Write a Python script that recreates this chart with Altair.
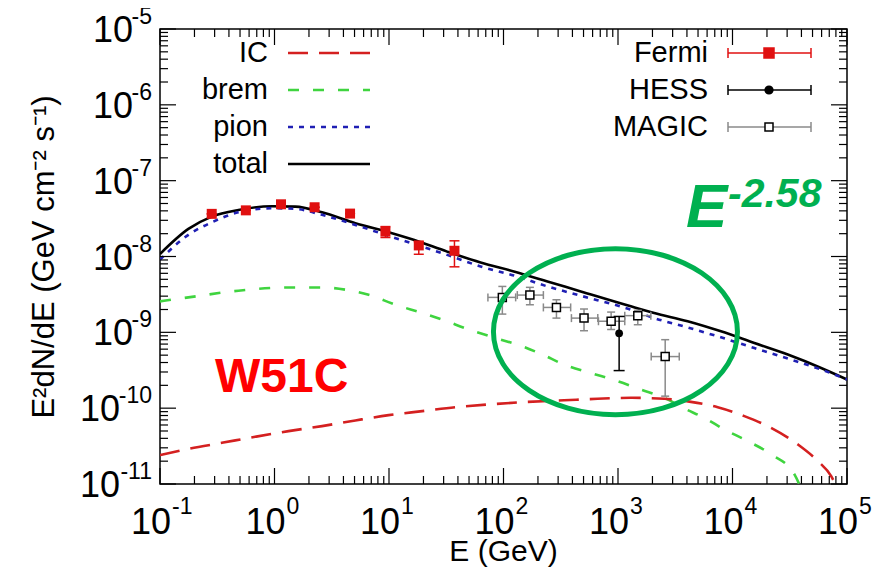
import altair as alt
import pandas as pd

# ---------------- data ----------------
model_E = [0.1, 0.177, 0.283, 0.484, 0.949, 1.52, 2.60, 5.08, 9.93, 16.4, 32.2, 63.1,
           123, 242, 473, 1294, 2070, 4055, 7925, 15520, 30400, 59430, 1e5]
total_F = [1.08e-8, 2.31e-8, 3.36e-8, 4.11e-8, 4.59e-8, 4.55e-8, 3.83e-8, 2.74e-8, 2.09e-8,
           1.66e-8, 1.16e-8, 8.34e-9, 6.35e-9, 4.69e-9, 3.46e-9, 2.20e-9, 1.80e-9, 1.40e-9,
           1.03e-9, 7.23e-10, 5.09e-10, 3.39e-10, 2.39e-10]
pion_F = [9.1e-9, 1.93e-8, 2.82e-8, 3.83e-8, 4.33e-8, 4.24e-8, 3.54e-8, 2.61e-8, 1.87e-8,
          1.47e-8, 1.05e-8, 7.39e-9, 5.62e-9, 4.03e-9, 3.04e-9, 1.99e-9, 1.54e-9, 1.16e-9,
          8.59e-10, 6.21e-10, 4.51e-10, 3.23e-10, 2.39e-10]
brem_E = [0.1, 0.177, 0.484, 1.326, 2.60, 4.16, 6.64, 11.4, 19.5, 29.2, 49.8, 85.3, 146, 219,
          338, 578, 991, 1583, 2531, 3787, 5662, 8468, 13580, 21720, 34750, 40000]
brem_F = [2.56e-9, 2.89e-9, 3.54e-9, 3.91e-9, 3.91e-9, 3.65e-9, 3.13e-9, 2.31e-9, 1.80e-9,
          1.47e-9, 1.09e-9, 8.41e-10, 6.55e-10, 5.09e-10, 3.76e-10, 2.91e-10, 2.27e-10,
          1.76e-10, 1.37e-10, 9.91e-11, 7.45e-11, 5.25e-11, 3.68e-11, 2.46e-11, 1.34e-11, 8.5e-12]
ic_E = [0.1, 0.177, 0.347, 0.678, 1.326, 2.60, 5.08, 9.93, 19.5, 38.1, 74.5, 146, 338, 662,
        1294, 2531, 4335, 7430, 12690, 21720, 37150, 55590, 72740, 82000]
ic_F = [2.41e-11, 2.91e-11, 3.49e-11, 4.19e-11, 4.98e-11, 5.80e-11, 6.89e-11, 8.09e-11,
        9.14e-11, 1.03e-10, 1.12e-10, 1.20e-10, 1.27e-10, 1.33e-10, 1.37e-10, 1.33e-10,
        1.21e-10, 1.03e-10, 7.85e-11, 5.51e-11, 3.33e-11, 2.01e-11, 1.27e-11, 8.9e-12]

fermi_E = [0.283, 0.562, 1.14, 2.24, 4.57, 9.31, 18.2, 37.3]
fermi_F = [3.65e-8, 4.06e-8, 4.88e-8, 4.46e-8, 3.68e-8, 2.13e-8, 1.40e-8, 1.19e-8]
fermi_lo = [3.65e-8, 4.06e-8, 4.88e-8, 4.46e-8, 3.68e-8, 1.78e-8, 1.07e-8, 7.31e-9]
fermi_hi = [3.65e-8, 4.06e-8, 4.88e-8, 4.46e-8, 3.68e-8, 2.48e-8, 1.57e-8, 1.61e-8]

hess_E = [1023]
hess_F = [9.70e-10]
hess_lo = [3.13e-10]
hess_hi = [1.62e-9]

magic_E = [97.7, 170, 290, 505, 871, 1489, 2583]
magic_Elo = [73.1, 132, 223, 392, 675, 1146, 1950]
magic_Ehi = [127.7, 223, 386, 666, 1146, 1936, 3428]
magic_F = [2.89e-9, 3.10e-9, 2.13e-9, 1.54e-9, 1.40e-9, 1.66e-9, 4.79e-10]
magic_Flo = [1.74e-9, 2.31e-9, 1.54e-9, 1.05e-9, 1.09e-9, 1.26e-9, 1.44e-10]
magic_Fhi = [4.03e-9, 3.92e-9, 2.69e-9, 2.03e-9, 1.85e-9, 1.95e-9, 8.0e-10]

x_major = [0.1, 1, 10, 100, 1000, 1e4, 1e5]
x_exp = ["-1", "0", "1", "2", "3", "4", "5"]
y_major = [1e-11, 1e-10, 1e-9, 1e-8, 1e-7, 1e-6, 1e-5]
y_exp = ["-11", "-10", "-9", "-8", "-7", "-6", "-5"]
x_minor = [m * 10.0 ** k for k in range(-1, 5) for m in range(2, 10)]
y_minor = [m * 10.0 ** k for k in range(-11, -5) for m in range(2, 10)]

curve_names = ["IC", "brem", "pion", "total"]
data_names = ["Fermi", "HESS", "MAGIC"]

ellipse_center_E = [950]
ellipse_center_F = [1.02e-9]

# ---------------- styling ----------------
W, H = 687, 455
FONT = "Liberation Sans"
NARROW = "'Liberation Sans Narrow', 'Liberation Sans', Arial, sans-serif"
C_IC, C_BREM, C_PION, C_TOT = "#d42020", "#3fd43f", "#2020b4", "#000000"
C_FERMI, C_MAGIC = "#e01010", "#8a8a8a"
C_ELL = "#00b050"

xs = alt.Scale(type="log", domain=[0.1, 1e5], nice=False)
ys = alt.Scale(type="log", domain=[1e-11, 1e-5], nice=False)


def X(f):
    return alt.X(f, type="quantitative", scale=xs, axis=None)


def Y(f):
    return alt.Y(f, type="quantitative", scale=ys, axis=None)


layers = []

# --- model curves ---
def curve(E, F, color, dash, width):
    df = pd.DataFrame({"E": E, "F": F})
    kw = dict(color=color, strokeWidth=width, clip=True, interpolate="monotone")
    if dash:
        kw["strokeDash"] = dash
    return alt.Chart(df).mark_line(**kw).encode(x=X("E"), y=Y("F"))


layers.append(curve(brem_E, brem_F, C_BREM, [11, 14], 2.6))
layers.append(curve(ic_E, ic_F, C_IC, [20, 11], 2.6))
layers.append(curve(model_E, total_F, C_TOT, None, 2.6))
layers.append(curve(model_E, pion_F, C_PION, [5, 6], 2.6))

# --- frame ticks (inside, all four sides) ---
for vals, ln in ((x_major, 16), (x_minor, 8)):
    d = pd.DataFrame({"v": vals})
    layers.append(alt.Chart(d).mark_rule(color="black", strokeWidth=1.2).encode(
        x=X("v"), y=alt.value(H), y2=alt.value(H - ln)))
    layers.append(alt.Chart(d).mark_rule(color="black", strokeWidth=1.2).encode(
        x=X("v"), y=alt.value(0), y2=alt.value(ln)))
for vals, ln in ((y_major, 16), (y_minor, 8)):
    d = pd.DataFrame({"v": vals})
    layers.append(alt.Chart(d).mark_rule(color="black", strokeWidth=1.2).encode(
        y=Y("v"), x=alt.value(0), x2=alt.value(ln)))
    layers.append(alt.Chart(d).mark_rule(color="black", strokeWidth=1.2).encode(
        y=Y("v"), x=alt.value(W), x2=alt.value(W - ln)))

# --- tick labels (10 with superscript exponent) ---
xl = pd.DataFrame({"v": x_major, "base": ["10"] * len(x_major), "exp": x_exp})
layers.append(alt.Chart(xl).mark_text(align="right", baseline="alphabetic", dx=11,
                                      fontSize=36, font=NARROW, color="black").encode(
    x=X("v"), y=alt.value(H + 50), text="base:N"))
layers.append(alt.Chart(xl).mark_text(align="left", baseline="alphabetic", dx=12,
                                      fontSize=23, font=NARROW, color="black").encode(
    x=X("v"), y=alt.value(H + 30), text="exp:N"))

yl = pd.DataFrame({"v": y_major, "base": ["10"] * len(y_major), "exp": y_exp})
layers.append(alt.Chart(yl).mark_text(align="right", baseline="alphabetic", dy=-5,
                                      fontSize=23, font=NARROW, color="black").encode(
    x=alt.value(-8), y=Y("v"), text="exp:N"))
layers.append(alt.Chart(yl).transform_filter("length(datum.exp) == 2").mark_text(
    align="right", baseline="alphabetic", dy=13, fontSize=36, font=NARROW, color="black").encode(
    x=alt.value(-27), y=Y("v"), text="base:N"))
layers.append(alt.Chart(yl).transform_filter("length(datum.exp) == 3").mark_text(
    align="right", baseline="alphabetic", dy=13, fontSize=36, font=NARROW, color="black").encode(
    x=alt.value(-40), y=Y("v"), text="base:N"))

# --- axis titles ---
layers.append(alt.Chart(pd.DataFrame({"t": ["E (GeV)"]})).mark_text(
    align="center", baseline="alphabetic", fontSize=30, font=FONT, color="black").encode(
    x=alt.value(W / 2), y=alt.value(H + 77), text="t:N"))
layers.append(alt.Chart(pd.DataFrame({"t": ["E\u00b2dN/dE (GeV cm\u207b\u00b2 s\u207b\u00b9)"]})).mark_text(
    align="center", baseline="alphabetic", angle=270, fontSize=31, font=FONT, color="black").encode(
    x=alt.value(-106), y=alt.value(228), text="t:N"))

# --- data points ---
fd = pd.DataFrame({"E": fermi_E, "F": fermi_F, "lo": fermi_lo, "hi": fermi_hi})
layers.append(alt.Chart(fd).mark_rule(color=C_FERMI, strokeWidth=1.5).encode(
    x=X("E"), y=Y("lo"), y2="hi"))
layers.append(alt.Chart(fd).mark_tick(orient="horizontal", size=10, thickness=1.5, color=C_FERMI, opacity=1).encode(
    x=X("E"), y=Y("lo")))
layers.append(alt.Chart(fd).mark_tick(orient="horizontal", size=10, thickness=1.5, color=C_FERMI, opacity=1).encode(
    x=X("E"), y=Y("hi")))
layers.append(alt.Chart(fd).mark_point(shape="square", filled=True, size=100, color=C_FERMI, opacity=1).encode(
    x=X("E"), y=Y("F")))

md = pd.DataFrame({"E": magic_E, "Elo": magic_Elo, "Ehi": magic_Ehi,
                   "F": magic_F, "Flo": magic_Flo, "Fhi": magic_Fhi})
layers.append(alt.Chart(md).mark_rule(color=C_MAGIC, strokeWidth=1.5).encode(
    x=X("Elo"), x2="Ehi", y=Y("F")))
layers.append(alt.Chart(md).mark_rule(color=C_MAGIC, strokeWidth=1.5).encode(
    x=X("E"), y=Y("Flo"), y2="Fhi"))
for fx in ("Elo", "Ehi"):
    layers.append(alt.Chart(md).mark_tick(orient="vertical", size=8, thickness=1.5, color=C_MAGIC, opacity=1).encode(
        x=X(fx), y=Y("F")))
for fy in ("Flo", "Fhi"):
    layers.append(alt.Chart(md).mark_tick(orient="horizontal", size=8, thickness=1.5, color=C_MAGIC, opacity=1).encode(
        x=X("E"), y=Y(fy)))
layers.append(alt.Chart(md).mark_point(shape="square", filled=True, size=64, fill="white",
                                       stroke="black", strokeWidth=1.5, opacity=1).encode(
    x=X("E"), y=Y("F")))

hd = pd.DataFrame({"E": hess_E, "F": hess_F, "lo": hess_lo, "hi": hess_hi})
layers.append(alt.Chart(hd).mark_rule(color="black", strokeWidth=1.5).encode(
    x=X("E"), y=Y("lo"), y2="hi"))
for fy in ("lo", "hi"):
    layers.append(alt.Chart(hd).mark_tick(orient="horizontal", size=11, thickness=1.5, color="black", opacity=1).encode(
        x=X("E"), y=Y(fy)))
layers.append(alt.Chart(hd).mark_point(shape="circle", filled=True, size=60, color="black", opacity=1).encode(
    x=X("E"), y=Y("F")))

# --- green ellipse annotation ---
ell_path = ("M -1 0 C -1 -0.3756 -0.5523 -0.68 0 -0.68 C 0.5523 -0.68 1 -0.3756 1 0 "
            "C 1 0.3756 0.5523 0.68 0 0.68 C -0.5523 0.68 -1 0.3756 -1 0 Z")
ed = pd.DataFrame({"E": ellipse_center_E, "F": ellipse_center_F})
layers.append(alt.Chart(ed).mark_point(shape=ell_path, size=244 ** 2, filled=False,
                                       stroke=C_ELL, strokeWidth=5, opacity=1).encode(
    x=X("E"), y=Y("F")))

# --- text annotations ---
layers.append(alt.Chart(pd.DataFrame({"t": ["W51C"]})).mark_text(
    align="left", baseline="alphabetic", fontSize=48, fontWeight="bold", font=FONT, color="#ff0000").encode(
    x=alt.value(55), y=alt.value(363), text="t:N"))
layers.append(alt.Chart(pd.DataFrame({"t": ["E"]})).mark_text(
    align="left", baseline="alphabetic", fontSize=62, fontWeight="bold", fontStyle="italic",
    font=FONT, color=C_ELL).encode(x=alt.value(526), y=alt.value(198), text="t:N"))
layers.append(alt.Chart(pd.DataFrame({"t": ["-2.58"]})).mark_text(
    align="left", baseline="alphabetic", fontSize=41, fontWeight="bold", fontStyle="italic",
    font=FONT, color=C_ELL).encode(x=alt.value(568), y=alt.value(178), text="t:N"))

# --- legend (left: model curves) ---
curve_styles = {"IC": (C_IC, [20, 11]), "brem": (C_BREM, [11, 14]),
                "pion": (C_PION, [5, 6]), "total": (C_TOT, None)}
for i, name in enumerate(curve_names):
    yy = 24 + 37 * i
    layers.append(alt.Chart(pd.DataFrame({"t": [name]})).mark_text(
        align="right", baseline="middle", fontSize=29, font=FONT, color="black").encode(
        x=alt.value(108), y=alt.value(yy), text="t:N"))
    col, dash = curve_styles[name]
    kw = dict(color=col, strokeWidth=2.6)
    if dash:
        kw["strokeDash"] = dash
    layers.append(alt.Chart(pd.DataFrame({"t": [name]})).mark_rule(**kw).encode(
        x=alt.value(128), x2=alt.value(210), y=alt.value(yy)))

# --- legend (right: data sets) ---
data_styles = {
    "Fermi": dict(bar=C_FERMI, shape="square", fill=C_FERMI, stroke=C_FERMI, size=100),
    "HESS": dict(bar="black", shape="circle", fill="black", stroke="black", size=60),
    "MAGIC": dict(bar=C_MAGIC, shape="square", fill="white", stroke="black", size=64),
}
for i, name in enumerate(data_names):
    yy = 24 + 37 * i
    st = data_styles[name]
    one = pd.DataFrame({"t": [name]})
    layers.append(alt.Chart(one).mark_text(
        align="right", baseline="middle", fontSize=29, font=FONT, color="black").encode(
        x=alt.value(548), y=alt.value(yy), text="t:N"))
    layers.append(alt.Chart(one).mark_rule(color=st["bar"], strokeWidth=1.5).encode(
        x=alt.value(568), x2=alt.value(651), y=alt.value(yy)))
    for xx in (568, 651):
        layers.append(alt.Chart(one).mark_rule(color=st["bar"], strokeWidth=1.5).encode(
            x=alt.value(xx), y=alt.value(yy - 5), y2=alt.value(yy + 5)))
    layers.append(alt.Chart(one).mark_point(shape=st["shape"], filled=True, size=st["size"],
                                            fill=st["fill"], stroke=st["stroke"], strokeWidth=1.5,
                                            opacity=1).encode(
        x=alt.value(609), y=alt.value(yy)))

chart = alt.layer(*layers).properties(
    width=W, height=H,
    padding={"left": 152, "top": 21, "right": 32, "bottom": 83},
    autosize=alt.AutoSizeParams(type="none"),
    background="white",
).configure_view(stroke="black", strokeWidth=1.5)

chart.save("out.html", embed_options={"renderer": "svg", "actions": False})
